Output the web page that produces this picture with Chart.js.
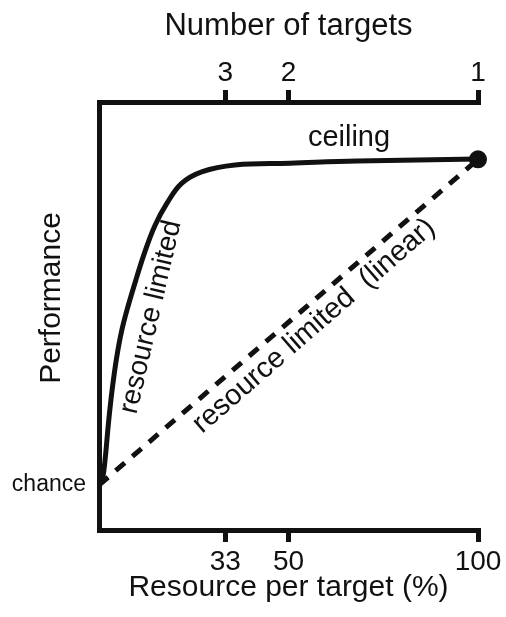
<!DOCTYPE html>
<html>
<head>
<meta charset="utf-8">
<script src="https://cdn.jsdelivr.net/npm/chart.js@4"></script>
<style>
  html, body { margin: 0; padding: 0; background: #fff; }
  canvas { display: block; }
</style>
</head>
<body>
<canvas id="chart" width="506" height="617"></canvas>
<script>
// resource per target (%) and performance
const resourcePct = [0, 0.9, 1.6, 2.5, 3.5, 4.7, 6.0, 7.7, 10.0, 12.1, 14.8, 17.9, 21.8, 27.1, 35.9, 50.4, 68.1, 100];
const performance = [10.5, 12.0, 16.4, 25.0, 33.0, 40.5, 46.6, 52.4, 59.2, 65.0, 71.2, 76.3, 81.0, 83.7, 85.3, 85.7, 86.2, 86.7];
const linearPct = [0, 100];
const linearPerf = [10.5, 86.6];
const chance = 10.5;
const ceiling = 86.6;

const xTickValues = [33.3, 50, 100];
const xTickLabels = ["33", "50", "100"];
const targetLabels = ["3", "2", "1"];

const INK = "#111";
const FONT = "'Liberation Sans', Arial, Helvetica, sans-serif";

const toPoints = (xs, ys) => xs.map((x, i) => ({ x, y: ys[i] }));

// free text drawn on the plot
const notes = {
  id: "notes",
  afterDatasetsDraw(chart) {
    const { ctx } = chart;
    const put = (text, x, y, size, angle) => {
      ctx.save();
      ctx.translate(x, y);
      ctx.rotate(angle * Math.PI / 180);
      ctx.font = size + "px " + FONT;
      ctx.fillStyle = INK;
      ctx.textAlign = "center";
      ctx.textBaseline = "middle";
      ctx.fillText(text, 0, 0);
      ctx.restore();
    };
    put("ceiling", 349, 138, 29, 0);
    put("resource limited", 151, 317, 28, -77);
    put("resource limited  (linear)", 314, 326, 29, -41);
    put("Performance", 52, 298, 30, -90);
  }
};

new Chart(document.getElementById("chart"), {
  type: "line",
  data: {
    datasets: [
      {
        data: toPoints(resourcePct, performance),
        borderColor: INK,
        borderWidth: 5,
        pointRadius: 0,
        tension: 0.4,
        fill: false,
        clip: false
      },
      {
        data: toPoints(linearPct, linearPerf),
        borderColor: INK,
        borderWidth: 5,
        borderDash: [12, 10],
        pointRadius: 0,
        fill: false,
        clip: false
      },
      {
        data: [{ x: 100, y: ceiling }],
        showLine: false,
        pointRadius: 9,
        pointBackgroundColor: INK,
        pointBorderWidth: 0,
        clip: false
      }
    ]
  },
  options: {
    responsive: false,
    animation: false,
    events: [],
    layout: { padding: { right: 28 } },
    plugins: {
      legend: { display: false },
      tooltip: { enabled: false }
    },
    scales: {
      x: {
        type: "linear",
        position: "bottom",
        min: 0,
        max: 100,
        afterBuildTicks: s => { s.ticks = xTickValues.map(v => ({ value: v })); },
        afterFit: s => { s.height = 87; },
        border: { display: true, color: INK, width: 5 },
        grid: { drawOnChartArea: false, drawTicks: true, tickLength: 12, color: INK, lineWidth: 5 },
        ticks: {
          autoSkip: false,
          maxRotation: 0,
          padding: 3,
          color: INK,
          font: { family: FONT, size: 28 },
          callback: (v, i) => xTickLabels[i]
        },
        title: {
          display: true,
          text: "Resource per target (%)",
          color: INK,
          font: { family: FONT, size: 30 },
          padding: { bottom: 11 }
        }
      },
      x2: {
        type: "linear",
        position: "top",
        min: 0,
        max: 100,
        afterBuildTicks: s => { s.ticks = xTickValues.map(v => ({ value: v })); },
        afterFit: s => { s.height = 102; },
        border: { display: true, color: INK, width: 5 },
        grid: { drawOnChartArea: false, drawTicks: true, tickLength: 12, color: INK, lineWidth: 5 },
        ticks: {
          autoSkip: false,
          maxRotation: 0,
          padding: 0,
          color: INK,
          font: { family: FONT, size: 28 },
          callback: (v, i) => targetLabels[i]
        },
        title: {
          display: true,
          text: "Number of targets",
          color: INK,
          font: { family: FONT, size: 31 },
          padding: { top: 8 }
        }
      },
      y: {
        type: "linear",
        min: 0,
        max: 100,
        afterBuildTicks: s => { s.ticks = [{ value: chance }]; },
        afterFit: s => { s.width = 99; },
        border: { display: true, color: INK, width: 5 },
        grid: { drawOnChartArea: false, drawTicks: false },
        ticks: {
          padding: 13,
          color: INK,
          font: { family: FONT, size: 23 },
          callback: () => "chance"
        }
      }
    }
  },
  plugins: [notes]
});
</script>
</body>
</html>
